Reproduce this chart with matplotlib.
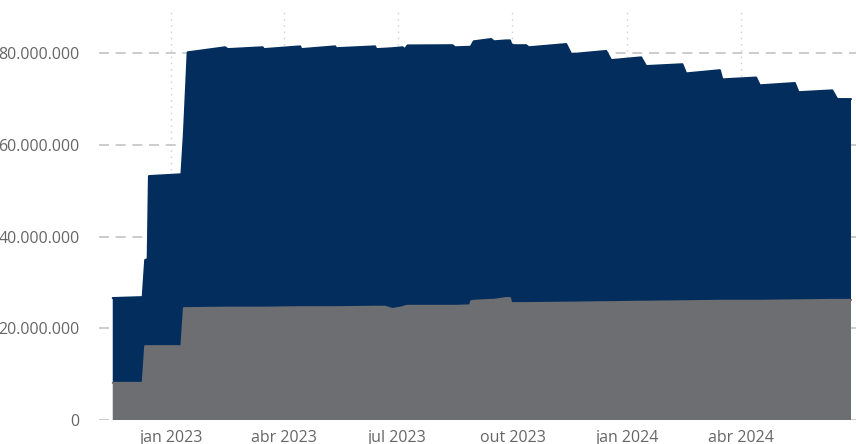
import numpy as np
import pandas as pd
import matplotlib
matplotlib.use("Agg")
import matplotlib.pyplot as plt
from matplotlib.ticker import FuncFormatter

# ── Data ───────────────────────────────────────────────────────────────────────

dates = [
    "2022-11-15", "2022-12-09", "2022-12-11", "2022-12-13", "2022-12-14",
    "2023-01-09", "2023-01-11", "2023-01-14", "2023-02-13", "2023-02-15",
    "2023-03-15", "2023-03-16", "2023-04-14", "2023-04-15", "2023-05-12",
    "2023-05-13", "2023-06-13", "2023-06-14", "2023-06-21", "2023-06-27",
    "2023-07-05", "2023-07-07", "2023-07-09", "2023-08-14", "2023-08-16",
    "2023-08-28", "2023-08-29", "2023-08-31", "2023-09-14", "2023-09-16",
    "2023-09-26", "2023-09-29", "2023-09-30", "2023-10-02", "2023-10-12",
    "2023-10-14", "2023-11-13", "2023-11-17", "2023-12-15", "2023-12-19",
    "2024-01-12", "2024-01-16", "2024-02-14", "2024-02-17", "2024-03-15",
    "2024-03-17", "2024-04-13", "2024-04-16", "2024-05-14", "2024-05-17",
    "2024-06-13", "2024-06-17", "2024-06-28",
]

# lower series (gray)
base = [
    8.1, 8.1, 16.1, 16.1, 16.1,
    16.1, 24.4, 24.4, 24.5, 24.5,
    24.5, 24.5, 24.6, 24.6, 24.6,
    24.6, 24.7, 24.7, 24.7, 24.2,
    24.6, 24.8, 24.9, 24.9, 24.9,
    25.0, 25.9, 26.0, 26.2, 26.2,
    26.6, 26.6, 25.5, 25.5, 25.5,
    25.5, 25.6, 25.6, 25.7, 25.7,
    25.8, 25.8, 25.9, 25.9, 26.0,
    26.0, 26.0, 26.0, 26.1, 26.1,
    26.2, 26.2, 26.2,
]

# top of the stack (total)
total = [
    26.6, 26.8, 34.9, 35.1, 53.2,
    53.6, 62.5, 80.2, 81.3, 80.9,
    81.3, 80.9, 81.5, 80.9, 81.5,
    81.1, 81.5, 80.9, 81.0, 81.1,
    81.3, 80.9, 81.7, 81.75, 81.3,
    81.4, 81.6, 82.6, 83.1, 82.6,
    82.8, 82.8, 82.0, 81.75, 81.75,
    81.3, 82.0, 79.8, 80.5, 78.5,
    79.1, 77.2, 77.6, 75.6, 76.3,
    74.3, 74.7, 73.0, 73.5, 71.5,
    71.9, 70.0, 70.0,
]

x      = pd.to_datetime(dates)
base   = np.array(base) * 1e6
upper  = np.array(total) * 1e6 - base

quarters = pd.to_datetime(["2023-01-01", "2023-04-01", "2023-07-01",
                           "2023-10-01", "2024-01-01", "2024-04-01"])
month_pt = ["jan", "fev", "mar", "abr", "mai", "jun",
            "jul", "ago", "set", "out", "nov", "dez"]

NAVY = "#022d5d"
GRAY = "#6d6e71"

# ── Plot ───────────────────────────────────────────────────────────────────────

plt.rcParams["font.family"] = ["Open Sans", "DejaVu Sans"]

fig = plt.figure(figsize=(8.56, 4.44), dpi=100)
ax  = fig.add_axes([99 / 856, 24 / 444, 757 / 856, 408 / 444])

for q in quarters:
    ax.axvline(q, color="#cfcfcf", linestyle=(0, (1, 3.5)), linewidth=1, zorder=0)
for v in [0, 20e6, 40e6, 60e6, 80e6]:
    ax.axhline(v, color="#c4c4c4", linestyle=(0, (6, 4)), linewidth=1.2, zorder=0)

ax.stackplot(x, base, upper, colors=[GRAY, NAVY], linewidth=0, zorder=2)
ax.plot(x, base, color=GRAY, linewidth=1.5, solid_capstyle="round", zorder=3)
ax.plot(x, base + upper, color=NAVY, linewidth=1.5, solid_capstyle="round", zorder=3)

ax.set_xlim(pd.Timestamp("2022-11-04"), pd.Timestamp("2024-07-02"))
ax.set_ylim(0, 89e6)

ax.set_yticks([0, 20e6, 40e6, 60e6, 80e6])
ax.yaxis.set_major_formatter(FuncFormatter(lambda v, p: f"{int(v):,}".replace(",", ".")))
ax.set_xticks(quarters)
ax.set_xticklabels([f"{month_pt[d.month - 1]} {d.year}" for d in quarters])

ax.tick_params(axis="both", length=0, labelsize=11.5, labelcolor="#666666")
ax.tick_params(axis="y", pad=14)
ax.tick_params(axis="x", pad=7)
for s in ax.spines.values():
    s.set_visible(False)

plt.savefig("out.png", dpi=100)
